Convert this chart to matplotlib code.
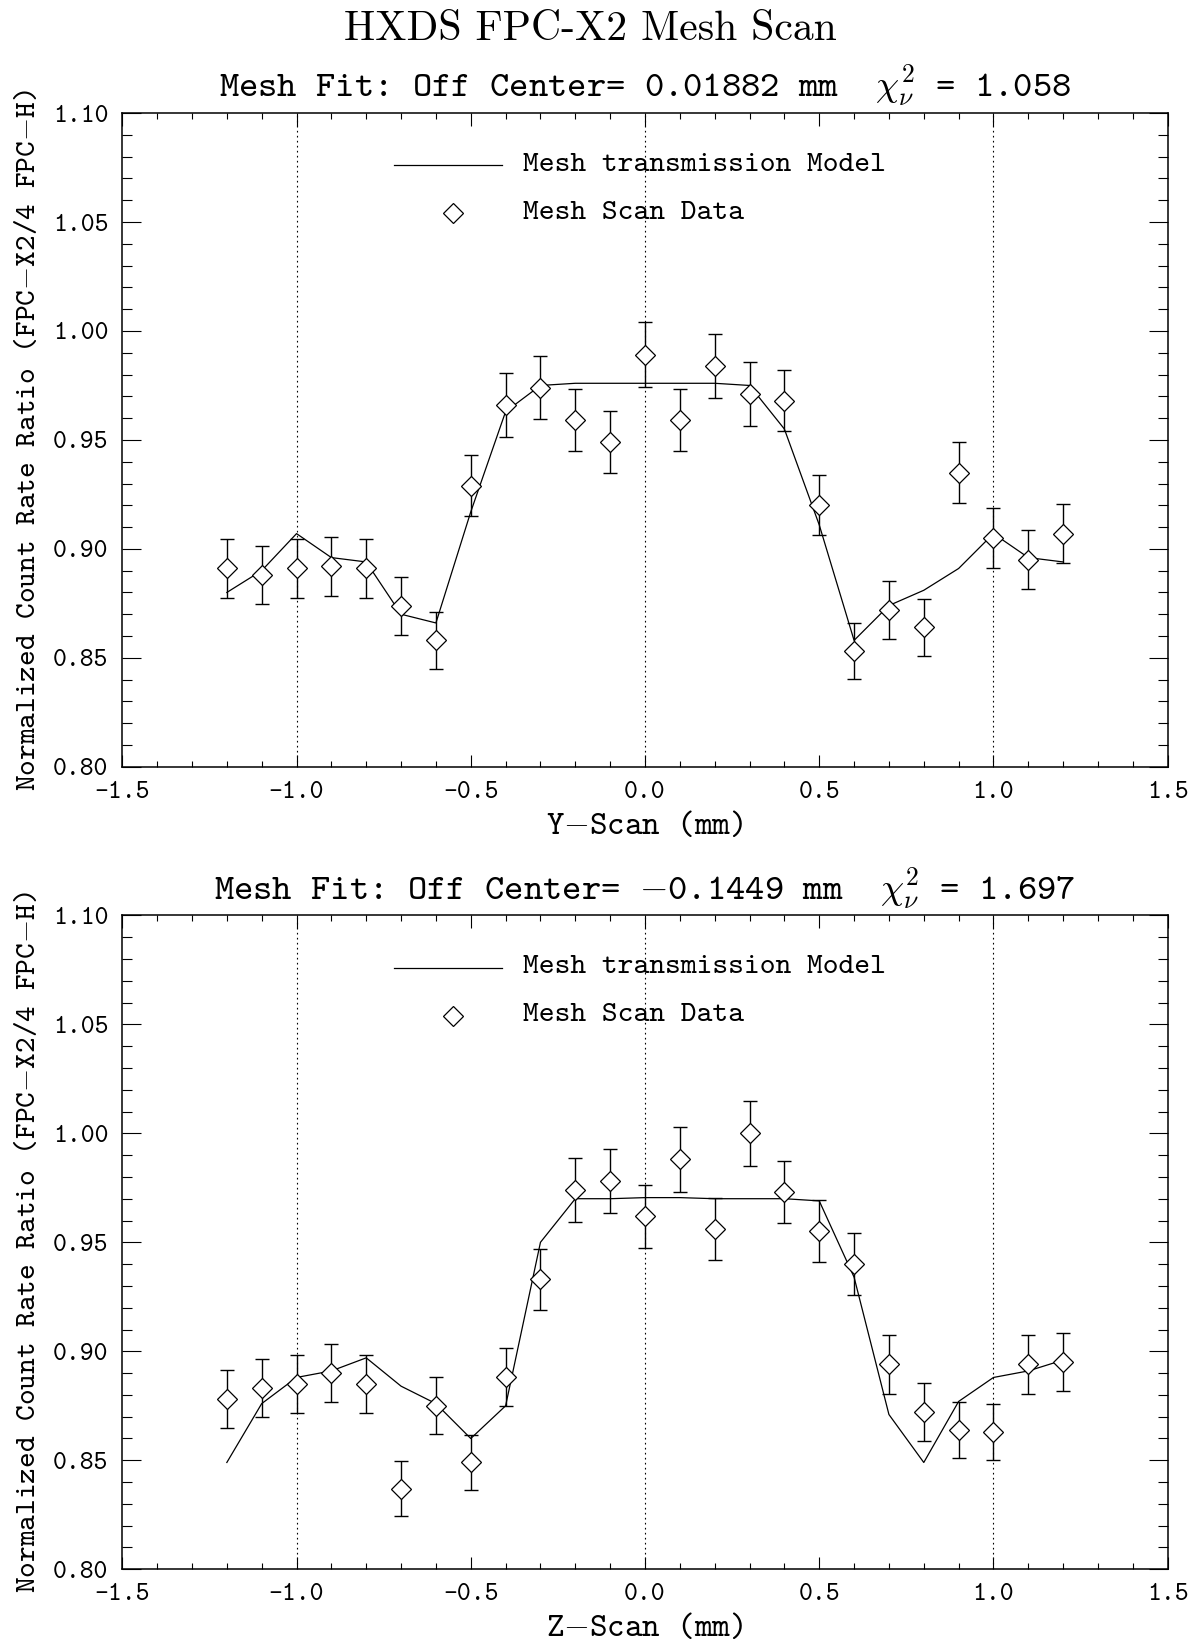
import matplotlib
matplotlib.use("Agg")
import matplotlib.pyplot as plt
from matplotlib.ticker import MultipleLocator, FormatStrFormatter

plt.rcParams['font.family'] = ['cmtt10', 'DejaVu Sans Mono']
plt.rcParams['mathtext.fontset'] = 'cm'
plt.rcParams['axes.unicode_minus'] = True

# scan positions (mm)
scan_pos = [-1.2, -1.1, -1.0, -0.9, -0.8, -0.7, -0.6, -0.5, -0.4, -0.3, -0.2, -0.1,
            0.0, 0.1, 0.2, 0.3, 0.4, 0.5, 0.6, 0.7, 0.8, 0.9, 1.0, 1.1, 1.2]

# Y scan
y_data = [0.891, 0.888, 0.891, 0.892, 0.891, 0.874, 0.858, 0.929, 0.966, 0.974, 0.959, 0.949,
          0.989, 0.959, 0.984, 0.971, 0.968, 0.920, 0.853, 0.872, 0.864, 0.935, 0.905, 0.895, 0.907]
y_err = [0.0135, 0.0135, 0.0134, 0.0134, 0.0134, 0.0133, 0.0130, 0.0141, 0.0146, 0.0145, 0.0142, 0.0141,
         0.0149, 0.0142, 0.0148, 0.0148, 0.0141, 0.0138, 0.0128, 0.0132, 0.0130, 0.0141, 0.0136, 0.0135, 0.0137]
y_model = [0.880, 0.890, 0.907, 0.896, 0.894, 0.870, 0.866, 0.917, 0.963, 0.975, 0.976, 0.976,
           0.976, 0.976, 0.976, 0.975, 0.955, 0.911, 0.858, 0.874, 0.881, 0.891, 0.907, 0.896, 0.894]

# Z scan
z_data = [0.878, 0.883, 0.885, 0.890, 0.885, 0.837, 0.875, 0.849, 0.888, 0.933, 0.974, 0.978,
          0.962, 0.988, 0.956, 1.000, 0.973, 0.955, 0.940, 0.894, 0.872, 0.864, 0.863, 0.894, 0.895]
z_err = [0.0133, 0.0133, 0.0132, 0.0132, 0.0131, 0.0127, 0.0130, 0.0127, 0.0133, 0.0140, 0.0146, 0.0146,
         0.0144, 0.0148, 0.0142, 0.0150, 0.0143, 0.0142, 0.0142, 0.0134, 0.0133, 0.0128, 0.0129, 0.0134, 0.0134]
z_model = [0.849, 0.876, 0.888, 0.891, 0.897, 0.884, 0.876, 0.860, 0.875, 0.950, 0.970, 0.970,
           0.9705, 0.9705, 0.970, 0.970, 0.970, 0.969, 0.934, 0.871, 0.849, 0.877, 0.888, 0.891, 0.896]

panels = [
    ("Y", y_data, y_err, y_model, "0.01882", "1.058"),
    ("Z", z_data, z_err, z_model, "$-$0.1449", "1.697"),
]

fig = plt.figure(figsize=(11.99, 16.44), dpi=100)
fig.text(0.492, 0.9824, "HXDS FPC-X2 Mesh Scan", family='cmr10', fontsize=30,
         ha='center', va='center')

axes_rects = [[0.1020, 0.5336, 0.8719, 0.3976], [0.1020, 0.04544, 0.8719, 0.3978]]

for rect, (name, data, err, model, offc, chi) in zip(axes_rects, panels):
    ax = fig.add_axes(rect)
    ax.set_xlim(-1.5, 1.5)
    ax.set_ylim(0.80, 1.10)

    for xv in [-1.0, 0.0, 1.0]:
        ax.axvline(xv, color='black', linestyle=(0, (1.5, 3)), linewidth=0.8)

    ax.plot(scan_pos, model, color='black', linewidth=0.9)
    ax.errorbar(scan_pos, data, yerr=err, fmt='none', ecolor='black',
                elinewidth=1.0, capsize=5, capthick=1.0)
    ax.plot(scan_pos, data, linestyle='none', marker='D', markersize=10,
            markerfacecolor='white', markeredgecolor='black', markeredgewidth=0.9)

    # legend drawn by hand like IDL
    ax.plot([-0.72, -0.41], [1.076, 1.076], color='black', linewidth=0.9)
    ax.plot([-0.55], [1.054], linestyle='none', marker='D', markersize=10,
            markerfacecolor='white', markeredgecolor='black', markeredgewidth=0.9)
    ax.text(-0.35, 1.076, "Mesh transmission Model", fontsize=21.7, va='center', ha='left')
    ax.text(-0.35, 1.054, "Mesh Scan Data", fontsize=21.7, va='center', ha='left')

    ax.xaxis.set_major_locator(MultipleLocator(0.5))
    ax.xaxis.set_minor_locator(MultipleLocator(0.1))
    ax.yaxis.set_major_locator(MultipleLocator(0.05))
    ax.yaxis.set_minor_locator(MultipleLocator(0.01))
    ax.xaxis.set_major_formatter(FormatStrFormatter('%.1f'))
    ax.yaxis.set_major_formatter(FormatStrFormatter('%.2f'))

    ax.tick_params(axis='both', which='both', direction='in', top=True, right=True,
                   width=0.8, labelsize=19)
    ax.tick_params(axis='y', which='major', length=14, pad=10)
    ax.tick_params(axis='y', which='minor', length=7)
    ax.tick_params(axis='x', which='major', length=9, pad=10)
    ax.tick_params(axis='x', which='minor', length=4.5)
    for sp in ax.spines.values():
        sp.set_linewidth(1.1)

    ax.set_xlabel(name + "$-$Scan (mm)", fontsize=24, labelpad=5)
    ax.set_ylabel("Normalized Count Rate Ratio (FPC$-$X2/4 FPC$-$H)", fontsize=21.5, labelpad=8)
    ax.set_title("Mesh Fit: Off Center= " + offc + r" mm  $\chi^2_\nu$ = " + chi,
                 fontsize=26.5, pad=12)

fig.savefig("out.png", dpi=100)
